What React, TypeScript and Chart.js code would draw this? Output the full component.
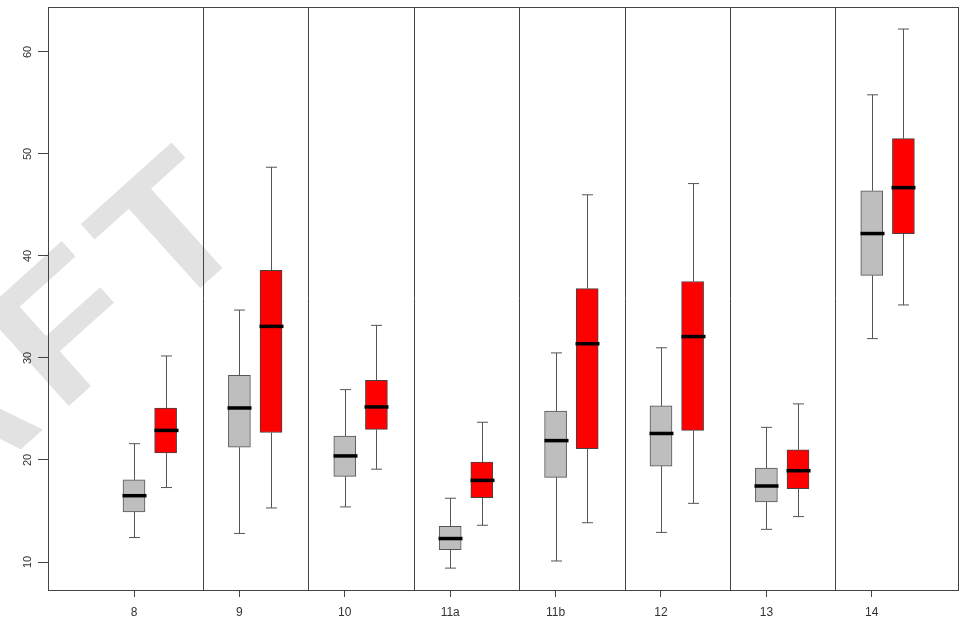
import React, { useEffect, useRef } from "react";
import { Chart, registerables } from "chart.js";

Chart.register(...registerables);

// ---- data ----
const categories = ["8", "9", "10", "11a", "11b", "12", "13", "14"];

const greyMin = [12.4, 12.8, 15.4, 9.4, 10.1, 12.9, 13.2, 31.9];
const greyQ1 = [14.9, 21.25, 18.4, 11.2, 18.3, 19.4, 15.9, 38.1];
const greyMedian = [16.5, 25.1, 20.4, 12.3, 21.9, 22.6, 17.45, 42.2];
const greyQ3 = [18.05, 28.3, 22.35, 13.5, 24.8, 25.3, 19.2, 46.4];
const greyMax = [21.6, 34.7, 26.9, 16.25, 30.5, 31.0, 23.2, 55.8];

const redMin = [17.3, 15.3, 19.1, 13.6, 13.85, 15.75, 14.45, 35.2];
const redQ1 = [20.7, 22.7, 23.0, 16.3, 21.1, 22.9, 17.2, 42.2];
const redMedian = [22.9, 33.1, 25.2, 18.0, 31.4, 32.1, 18.95, 46.7];
const redQ3 = [25.1, 38.6, 27.8, 19.8, 36.8, 37.5, 21.0, 51.5];
const redMax = [30.2, 48.7, 33.2, 23.7, 46.0, 47.1, 25.5, 62.25];

const yTicks = [10, 20, 30, 40, 50, 60];
const watermarkText = "DRAFT";

// ---- layout / style constants ----
const RED_OFFSET = 0.3;
const SEP_OFFSET = 0.655;
const BOX_W = 22;
const CAP_W = 11;
const FONT = '"Liberation Sans", Arial, Helvetica, sans-serif';

type Series = {
  offset: number;
  min: number[];
  q1: number[];
  med: number[];
  q3: number[];
  max: number[];
};

const series: Series[] = [
  { offset: 0, min: greyMin, q1: greyQ1, med: greyMedian, q3: greyQ3, max: greyMax },
  { offset: RED_OFFSET, min: redMin, q1: redQ1, med: redMedian, q3: redQ3, max: redMax },
];

const boxPlugin = {
  id: "boxExtras",
  beforeDraw(chart: any) {
    const { ctx } = chart;
    ctx.save();
    ctx.fillStyle = "#ffffff";
    ctx.fillRect(0, 0, chart.width, chart.height);
    ctx.translate(270, 225);
    ctx.rotate((-42 * Math.PI) / 180);
    ctx.scale(1.12, 1);
    ctx.font = `bold 185px ${FONT}`;
    try {
      (ctx as any).letterSpacing = "14px";
    } catch (e) {
      /* ignore */
    }
    ctx.fillStyle = "#e2e2e2";
    ctx.textAlign = "right";
    ctx.textBaseline = "alphabetic";
    ctx.fillText(watermarkText, 0, 0);
    ctx.restore();
  },
  afterDatasetsDraw(chart: any) {
    const { ctx, chartArea } = chart;
    const xs = chart.scales.x;
    const ys = chart.scales.y;
    ctx.save();
    // separators
    ctx.strokeStyle = "#444";
    ctx.lineWidth = 1;
    for (let i = 0; i < categories.length - 1; i++) {
      const px = Math.round(xs.getPixelForValue(i + SEP_OFFSET)) + 0.5;
      ctx.beginPath();
      ctx.moveTo(px, chartArea.top);
      ctx.lineTo(px, chartArea.bottom);
      ctx.stroke();
    }
    // whiskers + medians
    series.forEach((s) => {
      categories.forEach((_, i) => {
        const cx = Math.round(xs.getPixelForValue(i + s.offset)) + 0.5;
        const yMin = ys.getPixelForValue(s.min[i]);
        const yQ1 = ys.getPixelForValue(s.q1[i]);
        const yQ3 = ys.getPixelForValue(s.q3[i]);
        const yMax = ys.getPixelForValue(s.max[i]);
        const yMed = ys.getPixelForValue(s.med[i]);
        ctx.strokeStyle = "#555";
        ctx.lineWidth = 1;
        ctx.beginPath();
        ctx.moveTo(cx, yQ3);
        ctx.lineTo(cx, yMax);
        ctx.moveTo(cx, yQ1);
        ctx.lineTo(cx, yMin);
        ctx.moveTo(cx - CAP_W / 2, yMax);
        ctx.lineTo(cx + CAP_W / 2, yMax);
        ctx.moveTo(cx - CAP_W / 2, yMin);
        ctx.lineTo(cx + CAP_W / 2, yMin);
        ctx.stroke();
        ctx.strokeStyle = "#000";
        ctx.lineWidth = 3.5;
        ctx.beginPath();
        ctx.moveTo(cx - BOX_W / 2 - 1, yMed);
        ctx.lineTo(cx + BOX_W / 2 + 1, yMed);
        ctx.stroke();
      });
    });
    // frame
    ctx.strokeStyle = "#444";
    ctx.lineWidth = 1;
    ctx.strokeRect(
      Math.round(chartArea.left) + 0.5,
      Math.round(chartArea.top) + 0.5,
      Math.round(chartArea.right - chartArea.left),
      Math.round(chartArea.bottom - chartArea.top)
    );
    ctx.restore();
  },
};

export default function App() {
  const ref = useRef<HTMLCanvasElement | null>(null);

  useEffect(() => {
    if (!ref.current) return;
    const chart = new Chart(ref.current, {
      type: "bar",
      data: {
        datasets: [
          {
            label: "grey",
            data: categories.map((_, i) => ({ x: i, y: [greyQ1[i], greyQ3[i]] })) as any,
            backgroundColor: "#bebebe",
            borderColor: "#555",
            borderWidth: 1,
            borderSkipped: false,
            barThickness: BOX_W,
            grouped: false,
          },
          {
            label: "red",
            data: categories.map((_, i) => ({ x: i + RED_OFFSET, y: [redQ1[i], redQ3[i]] })) as any,
            backgroundColor: "#ff0000",
            borderColor: "#444",
            borderWidth: 1,
            borderSkipped: false,
            barThickness: BOX_W,
            grouped: false,
          },
        ],
      },
      options: {
        responsive: false,
        animation: false,
        devicePixelRatio: 1,
        layout: { padding: { left: 0, top: 7, right: 8, bottom: 0 } },
        plugins: { legend: { display: false }, tooltip: { enabled: false } },
        scales: {
          x: {
            type: "linear",
            min: -0.816,
            max: 7.818,
            offset: false,
            afterBuildTicks: (s: any) => {
              s.ticks = categories.map((_, i) => ({ value: i }));
            },
            afterFit: (s: any) => {
              s.height = 27;
              s.paddingLeft = 0;
              s.paddingRight = 0;
            },
            ticks: {
              autoSkip: false,
              maxRotation: 0,
              padding: 8,
              color: "#333",
              font: { family: FONT, size: 12 },
              callback: (_v: any, idx: number) => categories[idx],
            },
            grid: { drawOnChartArea: false, offset: false, tickLength: 7, color: "#444" },
            border: { display: false },
          },
          y: {
            type: "linear",
            min: 7.255,
            max: 64.41,
            afterBuildTicks: (s: any) => {
              s.ticks = yTicks.map((v) => ({ value: v }));
            },
            afterFit: (s: any) => {
              s.width = 48;
              s.paddingTop = 0;
              s.paddingBottom = 0;
            },
            ticks: {
              minRotation: 90,
              maxRotation: 90,
              crossAlign: "center",
              padding: 4,
              color: "#333",
              font: { family: FONT, size: 11 },
            },
            grid: { drawOnChartArea: false, tickLength: 10, color: "#444" },
            border: { display: false },
          },
        },
      } as any,
      plugins: [boxPlugin],
    });
    return () => chart.destroy();
  }, []);

  return (
    <div style={{ position: "absolute", left: 0, top: 0, width: 966, height: 617 }}>
      <canvas ref={ref} width={966} height={617} style={{ display: "block" }} />
    </div>
  );
}
